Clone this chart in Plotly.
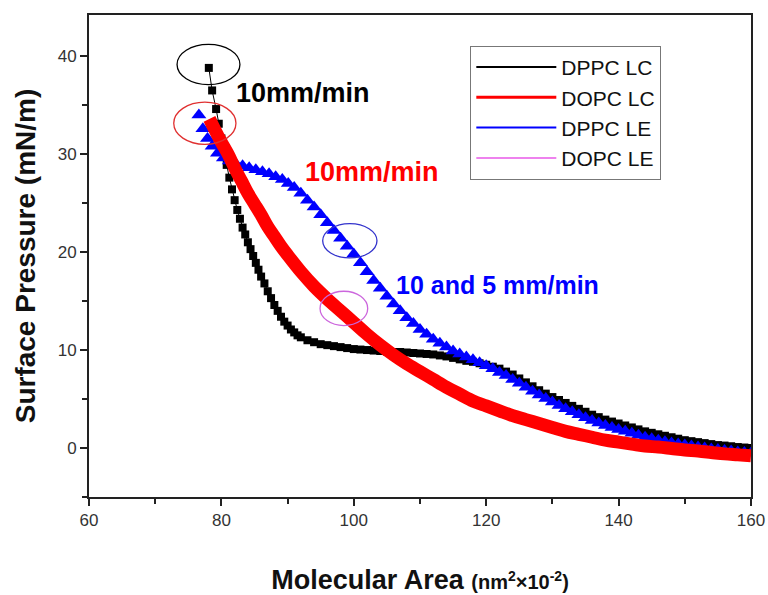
import plotly.graph_objects as go

# ---------------- data ----------------
dppc_lc_x = [78.1, 78.6, 79.2, 79.6, 80.0, 80.4, 80.8, 81.2, 81.6, 82.0, 82.4, 82.8, 83.2, 83.6,
             84.0, 84.4, 84.8, 85.2, 85.6, 86.0, 86.5, 87.0, 87.5, 88.0, 88.5, 89.0, 89.5, 90.0,
             90.5, 91.0, 91.5, 92, 93, 94, 95, 96, 97, 98, 99, 100, 101, 102, 103, 104, 105,
             106, 107, 108, 109, 110, 111, 112, 113, 114, 115, 116, 117, 118, 119, 120, 121,
             122, 123, 124, 125, 126, 127, 128, 129, 130, 131, 132, 133, 134, 135, 136, 137,
             138, 139, 140, 141, 142, 143, 144, 145, 146, 147, 148, 149, 150, 151, 152, 153,
             154, 155, 156, 157, 158, 159, 160]
dppc_lc_y = [38.8, 36.5, 34.6, 33.1, 31.6, 30.2, 28.9, 27.6, 26.4, 25.3, 24.3, 23.4, 22.5, 21.8,
             21.0, 20.3, 19.6, 18.9, 18.2, 17.5, 16.8, 16.0, 15.3, 14.6, 14.0, 13.4, 12.9, 12.5,
             12.1, 11.8, 11.5, 11.3, 11.0, 10.8, 10.6, 10.5, 10.4, 10.3, 10.2, 10.1, 10.05, 10.0,
             9.95, 9.9, 9.85, 9.8, 9.8, 9.75, 9.7, 9.65, 9.6, 9.55, 9.45, 9.35, 9.2, 9.05, 8.9,
             8.8, 8.65, 8.5, 8.3, 8.1, 7.8, 7.5, 7.1, 6.7, 6.3, 5.9, 5.55, 5.2, 4.9, 4.6, 4.3,
             4.0, 3.7, 3.4, 3.15, 2.9, 2.7, 2.5, 2.3, 2.1, 1.9, 1.7, 1.55, 1.4, 1.25, 1.1, 0.95,
             0.8, 0.7, 0.6, 0.5, 0.4, 0.3, 0.25, 0.18, 0.1, 0.05, 0.0]

dopc_lc_x = [78.2, 79, 80, 81, 82, 83, 84, 85, 86, 87, 88, 89, 90, 92, 94, 96, 98, 100, 102, 104,
             106, 108, 110, 112, 114, 116, 118, 120, 122, 124, 126, 128, 130, 132, 134, 136, 138,
             140, 142, 144, 146, 148, 150, 152, 154, 156, 158, 160]
dopc_lc_y = [33.6, 32.5, 31.2, 30.0, 28.6, 27.3, 26.0, 24.9, 23.8, 22.6, 21.6, 20.6, 19.7, 18.0,
             16.5, 15.2, 14.0, 12.8, 11.6, 10.5, 9.5, 8.6, 7.8, 7.0, 6.2, 5.5, 4.8, 4.3, 3.8, 3.3,
             2.9, 2.5, 2.1, 1.7, 1.4, 1.1, 0.8, 0.6, 0.4, 0.2, 0.1, -0.05, -0.2, -0.3, -0.45,
             -0.6, -0.7, -0.8]

dppc_le_x = [76.6, 77.2, 77.9, 78.6, 79.4, 80.3, 81.2, 82.2, 83.2, 84.2, 85.2, 86.2, 87.2, 88.2,
             89.2, 90.1, 91, 92, 93, 94, 95, 96, 97, 98, 99, 100, 101, 102, 103, 104, 105, 106,
             107, 108, 109, 110, 111, 112, 113, 114, 115, 116, 117, 118, 119, 120, 121, 122, 123,
             124, 125, 126, 127, 128, 129, 130, 131, 132, 133, 134, 135, 136, 137, 138, 139, 140,
             141, 142, 143, 144, 145, 146, 147, 148, 149, 150, 151, 152, 153, 154, 155, 156, 157,
             158, 159, 160]
dppc_le_y = [34.0, 32.6, 31.6, 30.8, 30.1, 29.6, 29.3, 29.0, 28.8, 28.6, 28.4, 28.2, 28.0, 27.7,
             27.4, 27.0, 26.6, 26.0, 25.3, 24.6, 23.8, 23.0, 22.2, 21.4, 20.6, 19.8, 18.9, 18.0,
             17.1, 16.3, 15.5, 14.7, 14.0, 13.3, 12.7, 12.1, 11.6, 11.1, 10.7, 10.3, 9.9, 9.6,
             9.3, 9.0, 8.7, 8.4, 8.1, 7.7, 7.4, 7.0, 6.6, 6.2, 5.8, 5.4, 5.05, 4.7, 4.35, 4.0,
             3.7, 3.4, 3.1, 2.8, 2.55, 2.3, 2.1, 1.9, 1.7, 1.5, 1.3, 1.1, 0.95, 0.8, 0.65, 0.5,
             0.4, 0.3, 0.2, 0.1, 0.0, -0.1, -0.15, -0.25, -0.3, -0.4, -0.45, -0.5]

legend_names = ["DPPC LC", "DOPC LC", "DPPC LE", "DOPC LE"]
legend_colors = ["#000000", "#ff0000", "#0000ff", "#ee82ee"]

x_ticks = [60, 80, 100, 120, 140, 160]
y_ticks = [0, 10, 20, 30, 40]

FONT = "Arial, Liberation Sans, Helvetica, sans-serif"

fig = go.Figure()

# DPPC LC: black squares joined by thin line
fig.add_trace(go.Scatter(
    x=dppc_lc_x, y=dppc_lc_y, mode="lines+markers", showlegend=False,
    line=dict(color="#000000", width=1),
    marker=dict(symbol="square", size=8, color="#000000"),
))
# DPPC LE: blue triangles
fig.add_trace(go.Scatter(
    x=dppc_le_x, y=dppc_le_y, mode="markers", showlegend=False,
    marker=dict(symbol="triangle-up", size=13, color="#0000ff"),
))
# DOPC LC: thick red curve
fig.add_trace(go.Scatter(
    x=dopc_lc_x, y=dopc_lc_y, mode="lines", showlegend=False,
    line=dict(color="#ff0000", width=13, shape="spline"),
))

# legend-only entries
for name, col in zip(legend_names, legend_colors):
    fig.add_trace(go.Scatter(
        x=[None], y=[None], mode="lines", name=name,
        line=dict(color=col, width=2 if name != "DOPC LC" else 3),
    ))

# ellipses marking the speeds
ellipses = [
    (73.3, 37.1, 82.8, 41.2, "#000000"),
    (72.8, 31.0, 82.2, 35.3, "#e03030"),
    (95.3, 19.4, 103.5, 22.9, "#3333cc"),
    (94.9, 12.5, 102.1, 16.0, "#cc66dd"),
]
for x0, y0, x1, y1, c in ellipses:
    fig.add_shape(type="circle", xref="x", yref="y", x0=x0, y0=y0, x1=x1, y1=y1,
                  line=dict(color=c, width=1.3))

fig.add_annotation(x=81.9, y=36.2, xref="x", yref="y", text="<b>10mm/min</b>",
                   showarrow=False, xanchor="left",
                   font=dict(family=FONT, size=27, color="#000000"))
fig.add_annotation(x=92.4, y=28.2, xref="x", yref="y", text="<b>10mm/min</b>",
                   showarrow=False, xanchor="left",
                   font=dict(family=FONT, size=27, color="#ff0000"))
fig.add_annotation(x=106.0, y=16.6, xref="x", yref="y", text="<b>10 and 5 mm/min</b>",
                   showarrow=False, xanchor="left",
                   font=dict(family=FONT, size=25, color="#0000ff"))

fig.update_layout(
    width=768, height=595,
    margin=dict(l=89, r=17, t=15, b=98),
    paper_bgcolor="white", plot_bgcolor="white",
    font=dict(family=FONT, color="#222222"),
    legend=dict(x=0.576, y=0.936, xanchor="left", yanchor="top",
                bordercolor="#777777", borderwidth=1, bgcolor="white",
                font=dict(family=FONT, size=21, color="#111111"),
                itemwidth=80, tracegroupgap=0),
    xaxis=dict(
        range=[60, 160], tickvals=x_ticks, ticks="outside", ticklen=7, tickwidth=1.5,
        tickcolor="#222222", showline=True, linecolor="#222222", linewidth=2, mirror=True,
        showgrid=False, zeroline=False, automargin=False,
        tickfont=dict(family=FONT, size=17, color="#333333"),
        minor=dict(dtick=10, ticks="outside", ticklen=5, tickwidth=1.5, tickcolor="#222222"),
        title=dict(text="<b>Molecular Area</b> <b><span style='font-size:20px'>(nm<sup>2</sup>×10<sup>-2</sup>)</span></b>",
                   font=dict(family=FONT, size=27, color="#111111"), standoff=44),
    ),
    yaxis=dict(
        range=[-5, 44.2], tickvals=y_ticks, ticks="outside", ticklen=7, tickwidth=1.5,
        tickcolor="#222222", showline=True, linecolor="#222222", linewidth=2, mirror=True,
        showgrid=False, zeroline=False, automargin=False,
        tickfont=dict(family=FONT, size=17, color="#333333"),
        minor=dict(dtick=5, ticks="outside", ticklen=5, tickwidth=1.5, tickcolor="#222222"),
        title=dict(text="<b>Surface Pressure (mN/m)</b>",
                   font=dict(family=FONT, size=28, color="#111111"), standoff=14),
    ),
)

# remove the default 8px page margin so the 768x595 figure fills the window exactly
fig.write_html("out.html",
               config={"displayModeBar": False},
               post_script="document.body.style.margin='0';document.body.style.overflow='hidden';")
